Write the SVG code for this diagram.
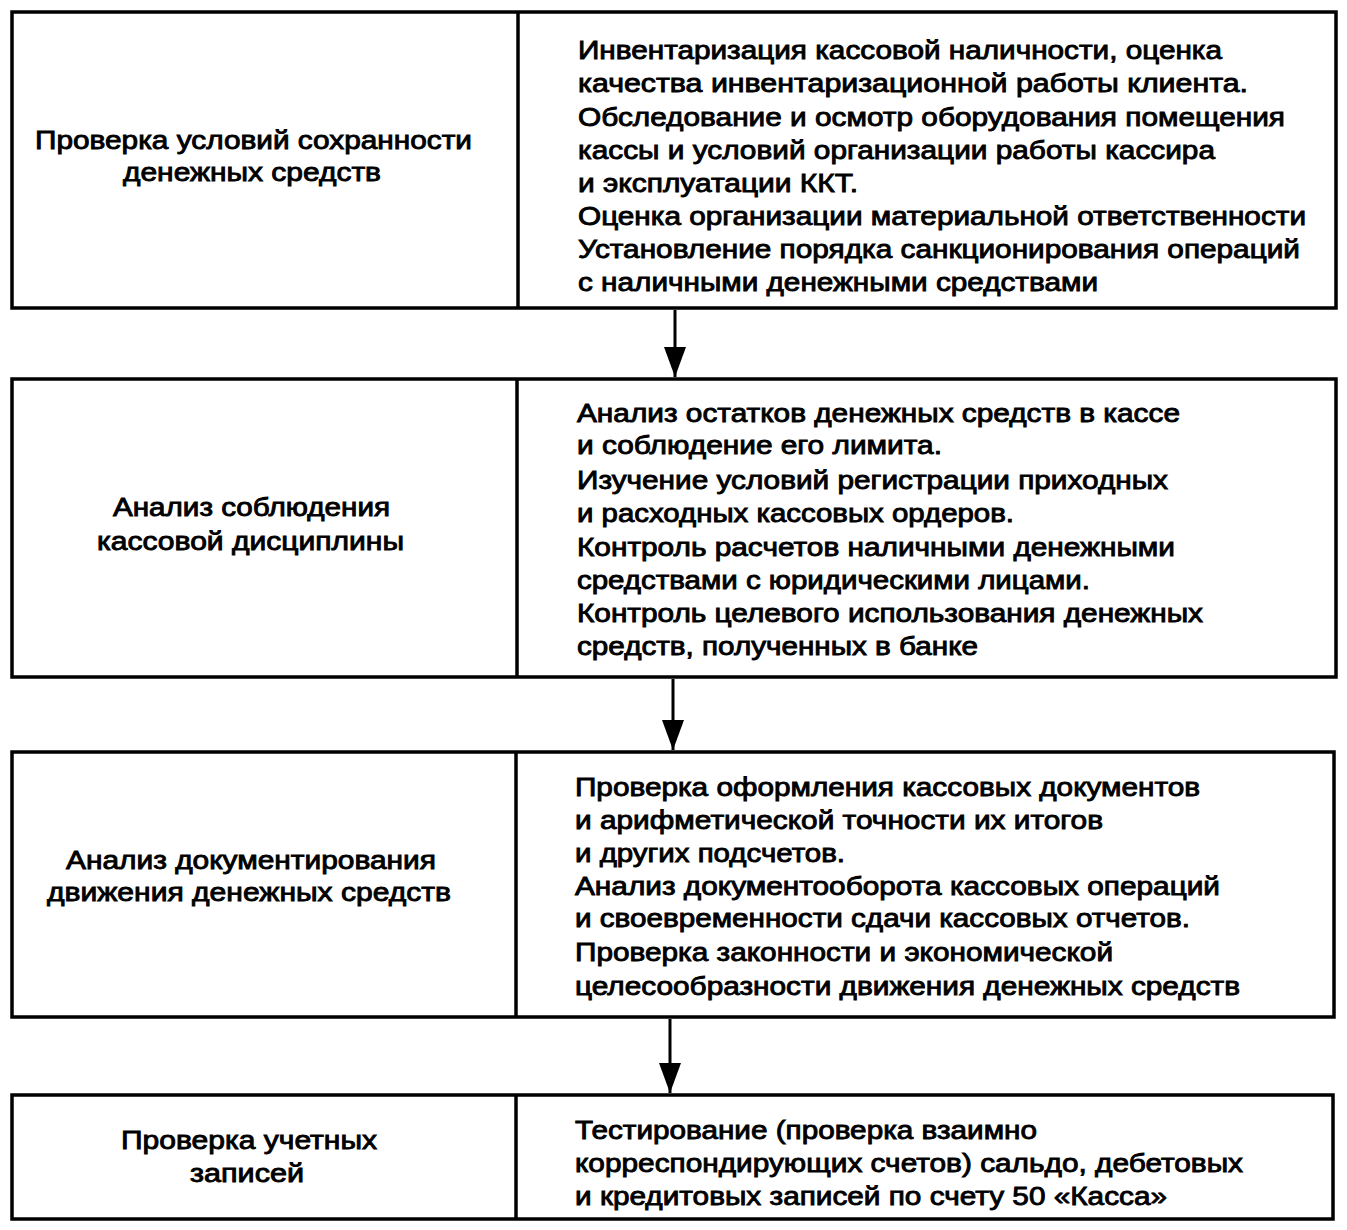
<svg xmlns="http://www.w3.org/2000/svg" width="1347" height="1230" viewBox="0 0 1347 1230">
<style>
.box{fill:#fff;stroke:#000;stroke-width:3.5}
.div{stroke:#000;stroke-width:3.5}
text{font-family:"Liberation Sans",Arial,sans-serif;font-size:26px;fill:#000;stroke:#000;stroke-width:0.9}
.conn{stroke:#000;stroke-width:3;fill:none}
</style>
<defs>
<marker id="arr" markerWidth="30" markerHeight="22" viewBox="0 0 30 22" refX="30" refY="11" orient="auto" markerUnits="userSpaceOnUse">
<path d="M0,0 L30,11 L0,22 Z" fill="#000"/>
</marker>
</defs>

<g id="row1">
<rect class="box" x="12" y="12" width="1324" height="296"/>
<line class="div" x1="518" y1="12" x2="518" y2="308"/>
<g id="row1-left">
<text x="35" y="149" textLength="437" lengthAdjust="spacingAndGlyphs">Проверка условий сохранности</text>
<text x="123" y="181" textLength="258" lengthAdjust="spacingAndGlyphs">денежных средств</text>
</g>
<g id="row1-right">
<text x="578" y="59" textLength="644" lengthAdjust="spacingAndGlyphs">Инвентаризация кассовой наличности, оценка</text>
<text x="578" y="92" textLength="670" lengthAdjust="spacingAndGlyphs">качества инвентаризационной работы клиента.</text>
<text x="578" y="126" textLength="707" lengthAdjust="spacingAndGlyphs">Обследование и осмотр оборудования помещения</text>
<text x="578" y="159" textLength="637" lengthAdjust="spacingAndGlyphs">кассы и условий организации работы кассира</text>
<text x="578" y="192" textLength="280" lengthAdjust="spacingAndGlyphs">и эксплуатации ККТ.</text>
<text x="578" y="225" textLength="728" lengthAdjust="spacingAndGlyphs">Оценка организации материальной ответственности</text>
<text x="578" y="258" textLength="722" lengthAdjust="spacingAndGlyphs">Установление порядка санкционирования операций</text>
<text x="578" y="291" textLength="520" lengthAdjust="spacingAndGlyphs">с наличными денежными средствами</text>
</g>
</g>

<g id="row2">
<rect class="box" x="12" y="379" width="1324" height="298"/>
<line class="div" x1="517" y1="379" x2="517" y2="677"/>
<g id="row2-left">
<text x="113" y="516" textLength="277" lengthAdjust="spacingAndGlyphs">Анализ соблюдения</text>
<text x="97" y="550" textLength="307" lengthAdjust="spacingAndGlyphs">кассовой дисциплины</text>
</g>
<g id="row2-right">
<text x="577" y="422" textLength="603" lengthAdjust="spacingAndGlyphs">Анализ остатков денежных средств в кассе</text>
<text x="577" y="454" textLength="365" lengthAdjust="spacingAndGlyphs">и соблюдение его лимита.</text>
<text x="577" y="489" textLength="591" lengthAdjust="spacingAndGlyphs">Изучение условий регистрации приходных</text>
<text x="577" y="522" textLength="437" lengthAdjust="spacingAndGlyphs">и расходных кассовых ордеров.</text>
<text x="577" y="556" textLength="598" lengthAdjust="spacingAndGlyphs">Контроль расчетов наличными денежными</text>
<text x="577" y="589" textLength="513" lengthAdjust="spacingAndGlyphs">средствами с юридическими лицами.</text>
<text x="577" y="622" textLength="626" lengthAdjust="spacingAndGlyphs">Контроль целевого использования денежных</text>
<text x="577" y="655" textLength="401" lengthAdjust="spacingAndGlyphs">средств, полученных в банке</text>
</g>
</g>

<g id="row3">
<rect class="box" x="12" y="752" width="1322" height="265"/>
<line class="div" x1="516" y1="752" x2="516" y2="1017"/>
<g id="row3-left">
<text x="66" y="869" textLength="370" lengthAdjust="spacingAndGlyphs">Анализ документирования</text>
<text x="47" y="901" textLength="404" lengthAdjust="spacingAndGlyphs">движения денежных средств</text>
</g>
<g id="row3-right">
<text x="575" y="796" textLength="625" lengthAdjust="spacingAndGlyphs">Проверка оформления кассовых документов</text>
<text x="575" y="829" textLength="528" lengthAdjust="spacingAndGlyphs">и арифметической точности их итогов</text>
<text x="575" y="862" textLength="270" lengthAdjust="spacingAndGlyphs">и других подсчетов.</text>
<text x="575" y="895" textLength="645" lengthAdjust="spacingAndGlyphs">Анализ документооборота кассовых операций</text>
<text x="575" y="927" textLength="615" lengthAdjust="spacingAndGlyphs">и своевременности сдачи кассовых отчетов.</text>
<text x="575" y="961" textLength="538" lengthAdjust="spacingAndGlyphs">Проверка законности и экономической</text>
<text x="575" y="995" textLength="665" lengthAdjust="spacingAndGlyphs">целесообразности движения денежных средств</text>
</g>
</g>

<g id="row4">
<rect class="box" x="12" y="1095" width="1321" height="124"/>
<line class="div" x1="516" y1="1095" x2="516" y2="1219"/>
<g id="row4-left">
<text x="121" y="1149" textLength="256" lengthAdjust="spacingAndGlyphs">Проверка учетных</text>
<text x="190" y="1182" textLength="114" lengthAdjust="spacingAndGlyphs">записей</text>
</g>
<g id="row4-right">
<text x="575" y="1139" textLength="462" lengthAdjust="spacingAndGlyphs">Тестирование (проверка взаимно</text>
<text x="575" y="1172" textLength="668" lengthAdjust="spacingAndGlyphs">корреспондирующих счетов) сальдо, дебетовых</text>
<text x="575" y="1205" textLength="592" lengthAdjust="spacingAndGlyphs">и кредитовых записей по счету 50 «Касса»</text>
</g>
</g>

<g id="connectors">
<line class="conn" x1="675" y1="310" x2="675" y2="377" marker-end="url(#arr)"/>
<line class="conn" x1="673" y1="679" x2="673" y2="750" marker-end="url(#arr)"/>
<line class="conn" x1="670" y1="1019" x2="670" y2="1093" marker-end="url(#arr)"/>
</g>
</svg>
